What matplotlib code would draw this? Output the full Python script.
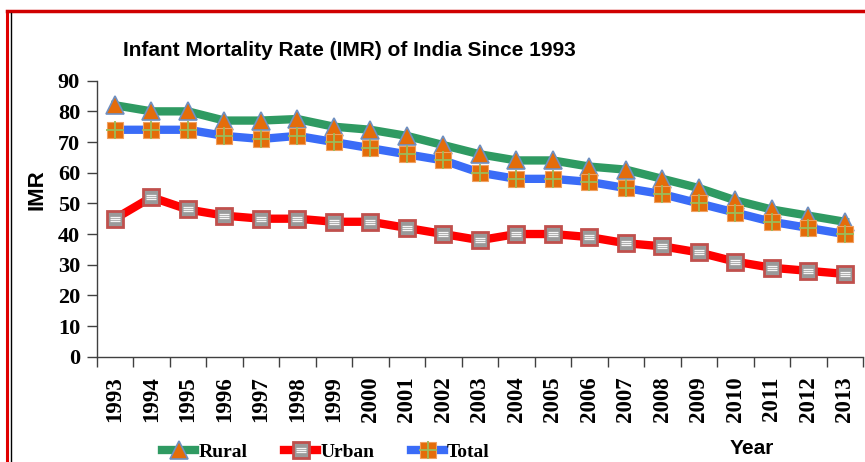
import matplotlib
matplotlib.use("Agg")
import matplotlib.pyplot as plt
from matplotlib.path import Path
from matplotlib.lines import Line2D
import numpy as np

years = [str(y) for y in range(1993, 2014)]
rural = [82, 80, 80, 77, 77, 77.5, 75, 74, 72, 69, 66, 64, 64, 62, 61, 58, 55, 51, 48, 46, 44]
urban = [45, 52, 48, 46, 45, 45, 44, 44, 42, 40, 38, 40, 40, 39, 37, 36, 34, 31, 29, 28, 27]
total = [74, 74, 74, 72, 71, 72, 70, 68, 66, 64, 60, 58, 58, 57, 55, 53, 50, 47, 44, 42, 40]
yticks = [0, 10, 20, 30, 40, 50, 60, 70, 80, 90]

W, H = 865, 462
fig = plt.figure(figsize=(W / 100, H / 100), dpi=100)
ax = fig.add_axes([96.7 / W, 1 - 356.7 / H, (863 - 96.7) / W, (356.7 - 80.7) / H])

x = np.arange(len(years))

green = '#2f9a62'
red = '#ff0000'
blue = '#3a6cf7'
orange = '#e46c0a'

stripes = Path([(-1, -0.45), (1, -0.45), (-1, 0), (1, 0), (-1, 0.45), (1, 0.45)],
               [Path.MOVETO, Path.LINETO, Path.MOVETO, Path.LINETO, Path.MOVETO, Path.LINETO])

lr, = ax.plot(x, rural, color=green, lw=6, marker='^', ms=13, mfc=orange,
              mec='#6f8fc0', mew=1.2, solid_joinstyle='round', zorder=3)
lu, = ax.plot(x, urban, color=red, lw=6, marker='s', ms=12, mfc='#9a9a9a',
              mec='#c0504d', mew=2, solid_joinstyle='round', zorder=3)
lu2, = ax.plot(x, urban, ls='none', marker=stripes, ms=7, mec='#f4f4f4', mew=0.9, zorder=4)
lt, = ax.plot(x, total, color=blue, lw=6, marker='s', ms=12, mfc=orange,
              mec='#f0a060', mew=0.8, solid_joinstyle='round', zorder=3)
lt2, = ax.plot(x, total, ls='none', marker='+', ms=13, mec='#9bbb59', mew=1.3, zorder=4)

ax.set_xlim(-0.5, len(years) - 0.5)
ax.set_ylim(0, 90)
ax.set_yticks(yticks)
ax.set_xticks(x)
ax.set_xticklabels(years, rotation=90)
ax.set_xticks(np.arange(-0.5, len(years), 1), minor=True)
ax.tick_params(axis='x', which='major', length=0, pad=14)
ax.tick_params(axis='x', which='minor', length=7, width=1, color='#404040')
ax.tick_params(axis='y', length=7, width=1, color='#404040', pad=5)
for s in ['top', 'right']:
    ax.spines[s].set_visible(False)
for s in ['left', 'bottom']:
    ax.spines[s].set_color('#404040')
    ax.spines[s].set_linewidth(1)

for lab in ax.get_yticklabels():
    lab.set_fontfamily('Liberation Serif')
    lab.set_fontweight('bold')
    lab.set_fontsize(16)
for lab in ax.get_xticklabels():
    lab.set_fontfamily('Liberation Serif')
    lab.set_fontweight('bold')
    lab.set_fontsize(16.5)

fig.text(349 / W, 1 - 50 / H, 'Infant Mortality Rate (IMR) of India Since 1993',
         ha='center', va='center', fontsize=15, fontweight='bold', family='Liberation Sans')
fig.text(37 / W, 1 - 190 / H, 'IMR', rotation=90, ha='center', va='center',
         fontsize=16, fontweight='bold', family='Liberation Sans')
fig.text(752 / W, 1 - 448 / H, 'Year', ha='center', va='center',
         fontsize=15, fontweight='bold', family='Liberation Sans')

# legend handles
hr = Line2D([], [], color=green, lw=6, marker='^', ms=13, mfc=orange, mec='#6f8fc0', mew=1.2)
hu = Line2D([], [], color=red, lw=6, marker='s', ms=12, mfc='#9a9a9a', mec='#c0504d', mew=2)
hu2 = Line2D([], [], ls='none', marker=stripes, ms=7, mec='#f4f4f4', mew=0.9)
ht = Line2D([], [], color=blue, lw=6, marker='s', ms=12, mfc=orange, mec='#f0a060', mew=0.8)
ht2 = Line2D([], [], ls='none', marker='+', ms=13, mec='#9bbb59', mew=1.3)
fig.legend([hr, (hu, hu2), (ht, ht2)], ['Rural', 'Urban', 'Total'],
           loc='center', bbox_to_anchor=(326 / W, 1 - 452 / H), ncol=3, frameon=False,
           prop={'family': 'Liberation Serif', 'weight': 'bold', 'size': 14},
           handlelength=1.7, handletextpad=0.15, columnspacing=1.9, borderpad=0)

# outer frame
fig.add_artist(Line2D([7 / W, 7 / W], [0, 1 - 11 / H], color='#e00000', lw=2.2, transform=fig.transFigure))
fig.add_artist(Line2D([7 / W, 1], [1 - 11 / H, 1 - 11 / H], color='#d00000', lw=2.5, transform=fig.transFigure))
fig.add_artist(Line2D([10.5 / W, 10.5 / W], [0, 1 - 13 / H], color='black', lw=1, transform=fig.transFigure))

fig.savefig('out.png', dpi=100)
